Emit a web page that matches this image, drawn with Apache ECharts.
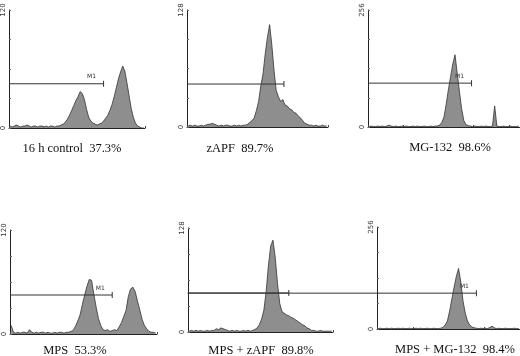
<!DOCTYPE html>
<html><head><meta charset="utf-8">
<script src="https://cdn.jsdelivr.net/npm/echarts@6.0.0/dist/echarts.min.js"></script>
<style>html,body{margin:0;padding:0;background:#fff}#c{width:520px;height:356px}</style>
</head><body><div id="c"></div>
<script>
// ---- data ----
const captions = ['16 h control  37.3%', 'zAPF  89.7%', 'MG-132  98.6%', 'MPS  53.3%', 'MPS + zAPF  89.8%', 'MPS + MG-132  98.4%'];
const yMax = [120, 128, 256, 120, 128, 256];
const xMax = [256, 256, 276, 256, 256, 256];
const binWidth = 4;
const hist16hControl = [2,1,2,3,2,1,2,2,3,2,1,2,2,1,2,2,1,2,1,2,2,1,2,2,3,
  4,6,9,13,18,23,28,32,37,35,
  29,19,11,7,5,4,3,4,5,
  7,10,13,18,24,32,41,50,57,63,58,46,33,20,11,5,2,1,0,0];
const histZAPF = [1,2,1,2,1,1,2,1,2,3,3,4,3,2,1,2,1,2,2,1,1,2,1,2,1,2,2,
  3,5,7,10,18,28,45,58,80,98,112,
  90,62,40,33,28,30,24,23,20,19,16,15,12,10,7,4,
  3,2,2,1,2,1,1,2,1,1];
const histMG132 = [1,2,1,1,2,1,2,1,2,4,2,1,2,1,1,2,1,2,1,1,2,1,2,1,1,2,1,1,2,1,2,
  2,4,10,22,50,82,110,138,158,118,78,40,14,5,3,
  2,1,2,1,1,2,1,2,1,1,2,
  46,
  2,1,1,2,1,1,2,1,1,1,2];
const histMPS = [10,2,1,2,1,2,2,1,5,2,1,2,1,2,2,1,2,1,1,2,1,2,2,1,2,2,3,
  4,9,15,22,34,45,55,63,62,46,31,18,10,5,4,5,3,4,5,4,8,13,20,27,43,52,54,49,38,28,17,10,6,3,2,2,1];
const histMPSzAPF = [1,2,1,2,1,2,1,1,2,1,2,2,4,3,5,4,3,2,1,2,1,2,1,1,2,1,2,1,2,3,
  5,9,16,27,50,82,106,113,92,60,35,25,23,21,20,18,17,15,13,11,9,8,5,4,2,
  2,1,1,2,1,1,1,1,1];
const histMPSMG132 = [1,2,1,1,2,1,2,1,1,2,1,2,1,1,2,1,1,2,1,2,1,1,2,1,1,2,1,1,
  2,4,10,20,45,75,105,132,152,118,70,40,20,10,5,3,
  2,1,2,1,2,1,4,7,3,1,2,1,1,2,1,1,1,2,1,1];
const histograms = [hist16hControl, histZAPF, histMG132, histMPS, histMPSzAPF, histMPSMG132];
// M1 gate: start channel, end channel, drawing level (counts)
const gateStart = [0, 0, 0, 0, 0, -339];
const gateEnd = [178, 176, 188, 178, 178, 178];
const gateLevel = [45, 47, 96, 45, 48, 90];
const gateLabel = ['M1', '', 'M1', 'M1', '', 'M1'];

// ---- layout ----
const grids = [
  {left: 8, top: 10, width: 137, height: 118},
  {left: 187, top: 10, width: 141, height: 117},
  {left: 368, top: 10, width: 152, height: 117},
  {left: 10, top: 230, width: 147, height: 104},
  {left: 188, top: 228, width: 145, height: 104},
  {left: 377, top: 227, width: 143, height: 102}
];
const captionPos = [[72, 149], [240, 149], [450, 148], [75, 351], [261, 351], [455, 350]];

const chart = echarts.init(document.getElementById('c'), null, {renderer: 'canvas'});
const xAxes = [], yAxes = [], series = [], graphics = [];
grids.forEach((g, k) => {
  xAxes.push({
    gridIndex: k, type: 'value', min: 0, max: xMax[k], interval: 64,
    axisLine: {lineStyle: {color: '#222', width: 1}},
    axisTick: {show: true, inside: true, length: 2, lineStyle: {color: '#444'}},
    axisLabel: {show: false}, splitLine: {show: false}
  });
  yAxes.push({
    gridIndex: k, type: 'value', min: 0, max: yMax[k], interval: yMax[k] / 4,
    axisLine: {show: true, lineStyle: {color: '#222', width: 1}},
    axisTick: {show: true, inside: true, length: 2, lineStyle: {color: '#666'}},
    axisLabel: {
      show: true, rotate: 90, margin: 2, fontSize: 7, color: '#333', fontFamily: 'DejaVu Sans',
      formatter: v => (v === 0 || v === yMax[k]) ? String(v) : ''
    },
    splitLine: {show: false}
  });
  series.push({
    type: 'line', xAxisIndex: k, yAxisIndex: k, symbol: 'none', silent: true,
    data: histograms[k].map((v, i) => [i * binWidth + binWidth / 2, v]),
    lineStyle: {color: '#333', width: 0.8},
    areaStyle: {color: '#8e8e8e', opacity: 1},
    z: 2
  });
  series.push({
    type: 'line', xAxisIndex: k, yAxisIndex: k, silent: true, clip: false,
    symbol: 'rect', symbolSize: [1, 6], showSymbol: true,
    itemStyle: {color: '#333'},
    lineStyle: {color: '#333', width: 1},
    data: [
      {value: [Math.max(0, gateStart[k]), gateLevel[k]], symbol: 'none'},
      {value: [gateEnd[k], gateLevel[k]],
        label: {show: gateLabel[k] !== '', formatter: gateLabel[k], position: 'top',
          offset: [-12, 4], fontSize: 6, color: '#333', fontFamily: 'DejaVu Sans'}}
    ],
    z: 5
  });
  graphics.push({
    type: 'text', x: captionPos[k][0], y: captionPos[k][1],
    style: {text: captions[k], align: 'center', verticalAlign: 'middle',
      textAlign: 'center', textVerticalAlign: 'middle',
      fontSize: 12.5, fontFamily: 'Liberation Serif', fill: '#111'}
  });
});

chart.setOption({
  animation: false,
  backgroundColor: '#fff',
  grid: grids.map(g => Object.assign({containLabel: false}, g)),
  xAxis: xAxes, yAxis: yAxes, series: series, graphic: graphics
});

// gate segments that start left of their own axis (extend across the neighbouring panel)
const extra = [];
grids.forEach((g, k) => {
  if (gateStart[k] < 0) {
    const p0 = chart.convertToPixel({gridIndex: k}, [gateStart[k], gateLevel[k]]);
    const p1 = chart.convertToPixel({gridIndex: k}, [0, gateLevel[k]]);
    extra.push({type: 'line', shape: {x1: p0[0], y1: p0[1], x2: p1[0], y2: p1[1]},
      style: {stroke: '#333', lineWidth: 1}, z: 10});
  }
});
chart.setOption({graphic: graphics.concat(extra)});
</script></body></html>
